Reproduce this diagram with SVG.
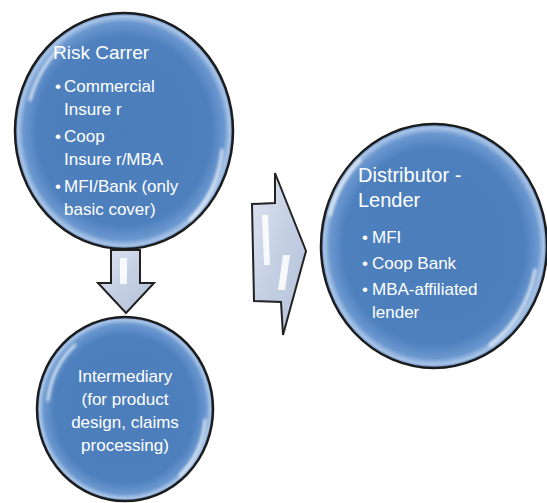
<svg xmlns="http://www.w3.org/2000/svg" width="547" height="503" viewBox="0 0 547 503">
  <defs>
    <radialGradient id="ballFill" cx="50%" cy="50%" r="50%">
      <stop offset="0%" stop-color="#4b7dbb"/>
      <stop offset="80%" stop-color="#4e80be"/>
      <stop offset="92%" stop-color="#6a97cf"/>
      <stop offset="97%" stop-color="#a9c4e6"/>
      <stop offset="100%" stop-color="#5a88c2"/>
    </radialGradient>
    <linearGradient id="arrowFill" x1="0" y1="0" x2="1" y2="1">
      <stop offset="0%" stop-color="#dfe6f2"/>
      <stop offset="50%" stop-color="#c4cfe3"/>
      <stop offset="100%" stop-color="#b4c1da"/>
    </linearGradient>
    <filter id="soft" x="-20%" y="-20%" width="140%" height="140%">
      <feGaussianBlur stdDeviation="1.5"/>
    </filter>
  </defs>
  <style>
    .ball { fill: url(#ballFill); stroke: #1c1c1c; stroke-width: 2.5; }
    .gloss { fill: none; stroke: #ffffff; stroke-width: 3; stroke-linecap: round; opacity: 0.75; filter: url(#soft); }
    .arrow { fill: url(#arrowFill); stroke: #222222; stroke-width: 2; stroke-linejoin: miter; }
    .shine { fill: #ffffff; opacity: 0.85; }
    .title { font-family: "Liberation Sans", Arial, sans-serif; font-size: 19px; fill: #ffffff; }
    .item { font-family: "Liberation Sans", Arial, sans-serif; font-size: 17px; fill: #ffffff; }
    .mid { text-anchor: middle; }
  </style>

  <!-- connectors -->
  <g id="connectors">
    <g id="arrow-down">
      <polygon class="arrow" points="111,250 140,250 140,283 154,283 126,313 98,283 111,283"/>
      <rect class="shine" x="120" y="258" width="7" height="26" opacity="0.8"/>
    </g>
    <g id="arrow-right">
      <polygon class="arrow" points="252,204 275,203 275,173 306,251 283,335 281,302 254,301"/>
      <polygon class="shine" points="262,215 268,215 270,265 264,265"/>
      <polygon class="shine" points="283,255 290,255 285,290 278,290"/>
    </g>
  </g>

  <g id="risk-carrier">
    <ellipse class="ball" cx="124" cy="131" rx="109" ry="118"/>
    <path class="gloss" d="M 30,100 A 100,112 0 0 1 60,48"/>
    <path class="gloss" d="M 222,150 A 104,112 0 0 1 190,220"/>
    <text class="title" x="53" y="59">Risk Carrer</text>
    <g class="item">
      <text x="55" y="92">•</text><text x="64" y="92">Commercial</text>
      <text x="64" y="115">Insure r</text>
      <text x="55" y="142">•</text><text x="64" y="142">Coop</text>
      <text x="64" y="165">Insure r/MBA</text>
      <text x="55" y="192">•</text><text x="64" y="192">MFI/Bank (only</text>
      <text x="64" y="215">basic cover)</text>
    </g>
  </g>

  <g id="distributor-lender">
    <ellipse class="ball" cx="434" cy="246" rx="113" ry="122"/>
    <path class="gloss" d="M 330,215 A 105,115 0 0 1 360,160"/>
    <path class="gloss" d="M 535,270 A 108,118 0 0 1 490,345"/>
    <text class="title" x="358" y="182" style="font-size:20px">Distributor -</text>
    <text class="title" x="358" y="207" style="font-size:20px">Lender</text>
    <g class="item">
      <text x="362" y="243">•</text><text x="372" y="243">MFI</text>
      <text x="362" y="269">•</text><text x="372" y="269">Coop Bank</text>
      <text x="362" y="295">•</text><text x="372" y="295">MBA-affiliated</text>
      <text x="372" y="318">lender</text>
    </g>
  </g>

  <g id="intermediary">
    <ellipse class="ball" cx="125" cy="409" rx="88" ry="92"/>
    <path class="gloss" d="M 48,400 A 80,86 0 0 1 75,345"/>
    <path class="gloss" d="M 205,420 A 82,86 0 0 1 180,475"/>
    <g class="item mid">
      <text x="125" y="382">Intermediary</text>
      <text x="125" y="405">(for product</text>
      <text x="125" y="428">design, claims</text>
      <text x="125" y="451">processing)</text>
    </g>
  </g>
</svg>
